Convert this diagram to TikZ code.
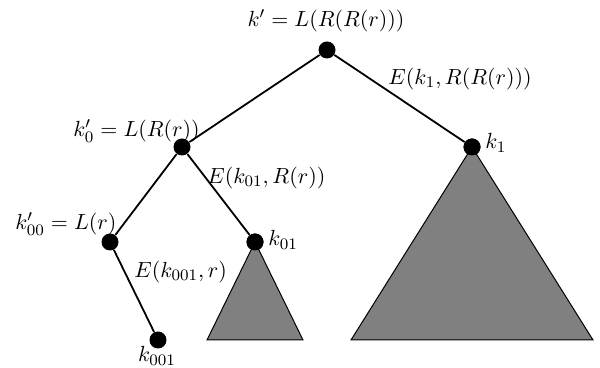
\documentclass[tikz,border=0pt]{standalone}
\begin{document}
\begin{tikzpicture}[x=0.5pt,y=-0.5pt,
  font=\fontsize{10.95}{13}\selectfont,
  dot/.style={circle,fill=black,inner sep=0pt,minimum size=8.5pt},
  edge/.style={line width=0.9pt},
  tri/.style={fill=black!50,draw=black,line width=0.5pt},
  lbl/.style={inner sep=0pt}]
\useasboundingbox (0,0) rectangle (600,368);
% subtrees
\coordinate (s1) at (207,340);
\coordinate (s2) at (303,340);
\coordinate (b1) at (351,340);
\coordinate (b2) at (593,340);
\node[dot] (r) at (327,50) {};
\node[dot] (a) at (182,147) {};
\node[dot] (k1) at (472,147) {};
\node[dot] (aa) at (110,242) {};
\node[dot] (k01) at (255,242) {};
\node[dot] (k001) at (158,340) {};
\draw[tri] (k01.center) -- (s1) -- (s2) -- cycle;
\draw[tri] (k1.center) -- (b1) -- (b2) -- cycle;
\draw[edge] (r) -- (a);
\draw[edge] (r) -- (k1);
\draw[edge] (a) -- (aa);
\draw[edge] (a) -- (k01);
\draw[edge] (aa) -- (k001);
\node[dot] at (k1) {};
\node[dot] at (k01) {};
% labels
\node[lbl] (lr) at (326,21) {$k' = L(R(R(r)))$};
\node[lbl,anchor=west] (le1) at (388,79) {$E(k_1,R(R(r)))$};
\node[lbl,anchor=west] (la) at (73,131) {$k_0' = L(R(r))$};
\node[lbl,anchor=west] (lk1) at (485,143) {$k_1$};
\node[lbl,anchor=west] (le01) at (207,178) {$E(k_{01},R(r))$};
\node[lbl,anchor=west] (laa) at (15,224) {$k_{00}' = L(r)$};
\node[lbl,anchor=west] (lk01) at (268,240) {$k_{01}$};
\node[lbl,anchor=west] (le001) at (134,272) {$E(k_{001},r)$};
\node[lbl] (lk001) at (157,356) {$k_{001}$};
\end{tikzpicture}
\end{document}
